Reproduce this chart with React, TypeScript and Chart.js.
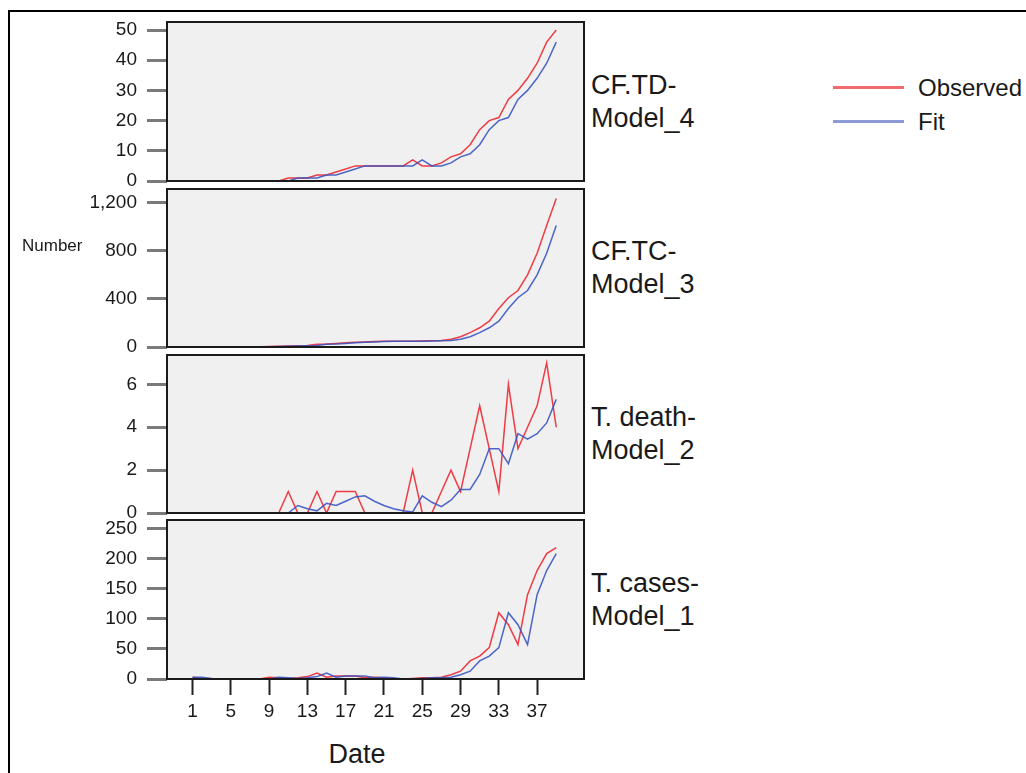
import React, { useEffect, useRef } from "react";
import { Chart, registerables } from "chart.js";

Chart.register(...registerables);

// ---------- data ----------
const days = [1, 2, 3, 4, 5, 6, 7, 8, 9, 10, 11, 12, 13, 14, 15, 16, 17, 18, 19, 20, 21, 22, 23, 24, 25, 26, 27, 28, 29, 30, 31, 32, 33, 34, 35, 36, 37, 38, 39];
const xTickValues = [1, 5, 9, 13, 17, 21, 25, 29, 33, 37];

const cftdObserved = [0, 0, 0, 0, 0, 0, 0, 0, 0, 0, 1, 1, 1, 2, 2, 3, 4, 5, 5, 5, 5, 5, 5, 7, 5, 5, 6, 8, 9, 12, 17, 20, 21, 27, 30, 34, 39, 46, 50];
const cftdFit = [0, 0, 0, 0, 0, 0, 0, 0, 0, 0, 0, 1, 1, 1, 2, 2, 3, 4, 5, 5, 5, 5, 5, 5, 7, 5, 5, 6, 8, 9, 12, 17, 20, 21, 27, 30, 34, 39, 46];

const cftcObserved = [1, 1, 1, 1, 1, 1, 1, 2, 5, 7, 8, 10, 13, 22, 25, 30, 35, 40, 42, 45, 47, 47, 47, 48, 50, 52, 55, 65, 85, 120, 160, 215, 320, 410, 470, 600, 780, 1010, 1236];
const cftcFit = [1, 1, 1, 1, 1, 1, 1, 1, 2, 5, 7, 8, 10, 13, 22, 25, 30, 35, 40, 42, 45, 47, 47, 47, 48, 50, 52, 55, 65, 85, 120, 160, 215, 320, 410, 470, 600, 780, 1010];

const tdeathObserved = [0, 0, 0, 0, 0, 0, 0, 0, 0, 0, 1, 0, 0, 1, 0, 1, 1, 1, 0, 0, 0, 0, 0, 2, 0, 0, 1, 2, 1, 3, 5, 3, 1, 6, 3, 4, 5, 7, 4];
const tdeathFit = [0, 0, 0, 0, 0, 0, 0, 0, 0, 0, 0, 0.35, 0.2, 0.1, 0.45, 0.35, 0.55, 0.75, 0.8, 0.55, 0.35, 0.2, 0.1, 0.05, 0.8, 0.5, 0.3, 0.6, 1.1, 1.1, 1.8, 3.0, 3.0, 2.3, 3.7, 3.45, 3.7, 4.2, 5.3];

const tcasesObserved = [3, 1, 0, 0, 0, 0, 0, 0, 3, 2, 1, 2, 4, 10, 3, 5, 5, 5, 2, 3, 2, 0, 0, 1, 2, 2, 3, 7, 13, 30, 38, 52, 110, 90, 57, 140, 180, 208, 218];
const tcasesFit = [3, 3, 1, 0, 0, 0, 0, 0, 0, 3, 2, 1, 2, 4, 10, 3, 5, 5, 5, 2, 3, 2, 0, 0, 1, 2, 2, 3, 7, 13, 30, 38, 52, 110, 90, 57, 140, 180, 208];

const cftdTicks = [0, 10, 20, 30, 40, 50];
const cftcTicks = [0, 400, 800, 1200];
const tdeathTicks = [0, 2, 4, 6];
const tcasesTicks = [0, 50, 100, 150, 200, 250];

const panelNames = [
  ["CF.TD-", "Model_4"],
  ["CF.TC-", "Model_3"],
  ["T. death-", "Model_2"],
  ["T. cases-", "Model_1"],
];
const legendLabels = ["Observed", "Fit"];
const yAxisTitle = "Number";
const xAxisTitle = "Date";

// ---------- styling ----------
const FONT = "'Liberation Sans', Arial, sans-serif";
const RED = "rgba(238, 34, 44, 0.88)";
const BLUE = "rgba(52, 82, 192, 0.88)";
const X_MIN = -1.67;
const X_MAX = 41.9;
const PAD = 15;
const CANVAS_W = 590;
const X_AXIS_H = 45;

const panels = [
  { top: 22, bottom: 181, yMax: 52.65, ticks: cftdTicks, obs: cftdObserved, fit: cftdFit, showX: false },
  { top: 189, bottom: 347, yMax: 1314, ticks: cftcTicks, obs: cftcObserved, fit: cftcFit, showX: false },
  { top: 355, bottom: 513, yMax: 7.37, ticks: tdeathTicks, obs: tdeathObserved, fit: tdeathFit, showX: false },
  { top: 520, bottom: 679, yMax: 263.8, ticks: tcasesTicks, obs: tcasesObserved, fit: tcasesFit, showX: true },
];

const panelPlugin = {
  id: "panelBox",
  beforeDraw(chart: any) {
    const { ctx, chartArea } = chart;
    ctx.save();
    ctx.fillStyle = "#f0f0f0";
    ctx.fillRect(chartArea.left, chartArea.top, chartArea.right - chartArea.left, chartArea.bottom - chartArea.top);
    ctx.restore();
  },
  afterDatasetsDraw(chart: any) {
    const { ctx, chartArea } = chart;
    ctx.save();
    ctx.strokeStyle = "#1a1a1a";
    ctx.lineWidth = 2;
    ctx.strokeRect(chartArea.left, chartArea.top, chartArea.right - chartArea.left, chartArea.bottom - chartArea.top);
    ctx.restore();
  },
};

function Panel({ cfg }: { cfg: any }) {
  const ref = useRef<HTMLCanvasElement | null>(null);
  const h = cfg.bottom - cfg.top + PAD + (cfg.showX ? X_AXIS_H : PAD);
  useEffect(() => {
    if (!ref.current) return;
    const chart = new Chart(ref.current, {
      type: "line",
      data: {
        datasets: [
          {
            label: legendLabels[1],
            data: days.map((d, i) => ({ x: d, y: cfg.fit[i] })),
            borderColor: BLUE,
            borderWidth: 1.5,
            pointRadius: 0,
            tension: 0,
            fill: false,
          },
          {
            label: legendLabels[0],
            data: days.map((d, i) => ({ x: d, y: cfg.obs[i] })),
            borderColor: RED,
            borderWidth: 1.5,
            pointRadius: 0,
            tension: 0,
            fill: false,
          },
        ],
      },
      options: {
        animation: false,
        responsive: false,
        maintainAspectRatio: false,
        events: [],
        layout: { padding: { left: 0, right: CANVAS_W - 584, top: PAD, bottom: cfg.showX ? 0 : PAD } },
        plugins: { legend: { display: false }, tooltip: { enabled: false } },
        scales: {
          x: {
            type: "linear",
            min: X_MIN,
            max: X_MAX,
            display: cfg.showX,
            afterBuildTicks: (s: any) => {
              s.ticks = xTickValues.map((v) => ({ value: v }));
            },
            afterFit: (s: any) => {
              s.height = cfg.showX ? X_AXIS_H : 0;
              s.paddingLeft = 0;
              s.paddingRight = 0;
            },
            grid: { display: true, drawOnChartArea: false, drawTicks: true, tickLength: 16, tickColor: "#222", tickWidth: 2 },
            border: { display: false },
            ticks: { font: { family: FONT, size: 19 }, color: "#1a1a1a", padding: 5, maxRotation: 0, autoSkip: false },
          },
          y: {
            type: "linear",
            min: 0,
            max: cfg.yMax,
            afterBuildTicks: (s: any) => {
              s.ticks = cfg.ticks.map((v: number) => ({ value: v }));
            },
            afterFit: (s: any) => {
              s.width = 167;
              s.paddingTop = 0;
              s.paddingBottom = 0;
            },
            grid: { display: true, drawOnChartArea: false, drawTicks: true, tickLength: 20, tickColor: "#7a7a7a", tickWidth: 3 },
            border: { display: false },
            ticks: {
              font: { family: FONT, size: 19 },
              color: "#1a1a1a",
              padding: 10,
              autoSkip: false,
              callback: (v: any) => Number(v).toLocaleString("en-US"),
            },
          },
        },
      } as any,
      plugins: [panelPlugin],
    });
    return () => chart.destroy();
  }, []);
  return (
    <canvas
      ref={ref}
      width={CANVAS_W}
      height={h}
      style={{ position: "absolute", left: 0, top: cfg.top - PAD, width: CANVAS_W, height: h }}
    />
  );
}

export default function App() {
  return (
    <div
      style={{
        position: "absolute",
        left: 0,
        top: 0,
        width: 1026,
        height: 773,
        overflow: "hidden",
        background: "#fff",
        fontFamily: FONT,
        color: "#1a1a1a",
      }}
    >
      <div style={{ position: "absolute", left: 8, top: 10, width: 1100, height: 2, background: "#000" }} />
      <div style={{ position: "absolute", left: 8, top: 10, width: 2, height: 900, background: "#000" }} />
      {panels.map((p, i) => (
        <Panel key={i} cfg={p} />
      ))}
      {panels.map((p, i) => (
        <div
          key={"lab" + i}
          style={{
            position: "absolute",
            left: 591,
            top: (p.top + p.bottom) / 2 - 33,
            fontSize: 27,
            lineHeight: "33px",
            whiteSpace: "nowrap",
          }}
        >
          {panelNames[i][0]}
          <br />
          {panelNames[i][1]}
        </div>
      ))}
      <div style={{ position: "absolute", left: 833, top: 86, width: 71, height: 3, background: "#f06a70" }} />
      <div style={{ position: "absolute", left: 833, top: 119.5, width: 71, height: 3, background: "#8c9bd6" }} />
      <div style={{ position: "absolute", left: 918, top: 76, fontSize: 24, lineHeight: "24px", whiteSpace: "nowrap" }}>
        {legendLabels[0]}
      </div>
      <div style={{ position: "absolute", left: 918, top: 109.5, fontSize: 24, lineHeight: "24px", whiteSpace: "nowrap" }}>
        {legendLabels[1]}
      </div>
      <div style={{ position: "absolute", left: 22, top: 237, fontSize: 17, lineHeight: "17px", whiteSpace: "nowrap" }}>
        {yAxisTitle}
      </div>
      <div
        style={{
          position: "absolute",
          left: 257,
          width: 200,
          top: 741,
          fontSize: 27,
          lineHeight: "27px",
          textAlign: "center",
          whiteSpace: "nowrap",
        }}
      >
        {xAxisTitle}
      </div>
    </div>
  );
}
